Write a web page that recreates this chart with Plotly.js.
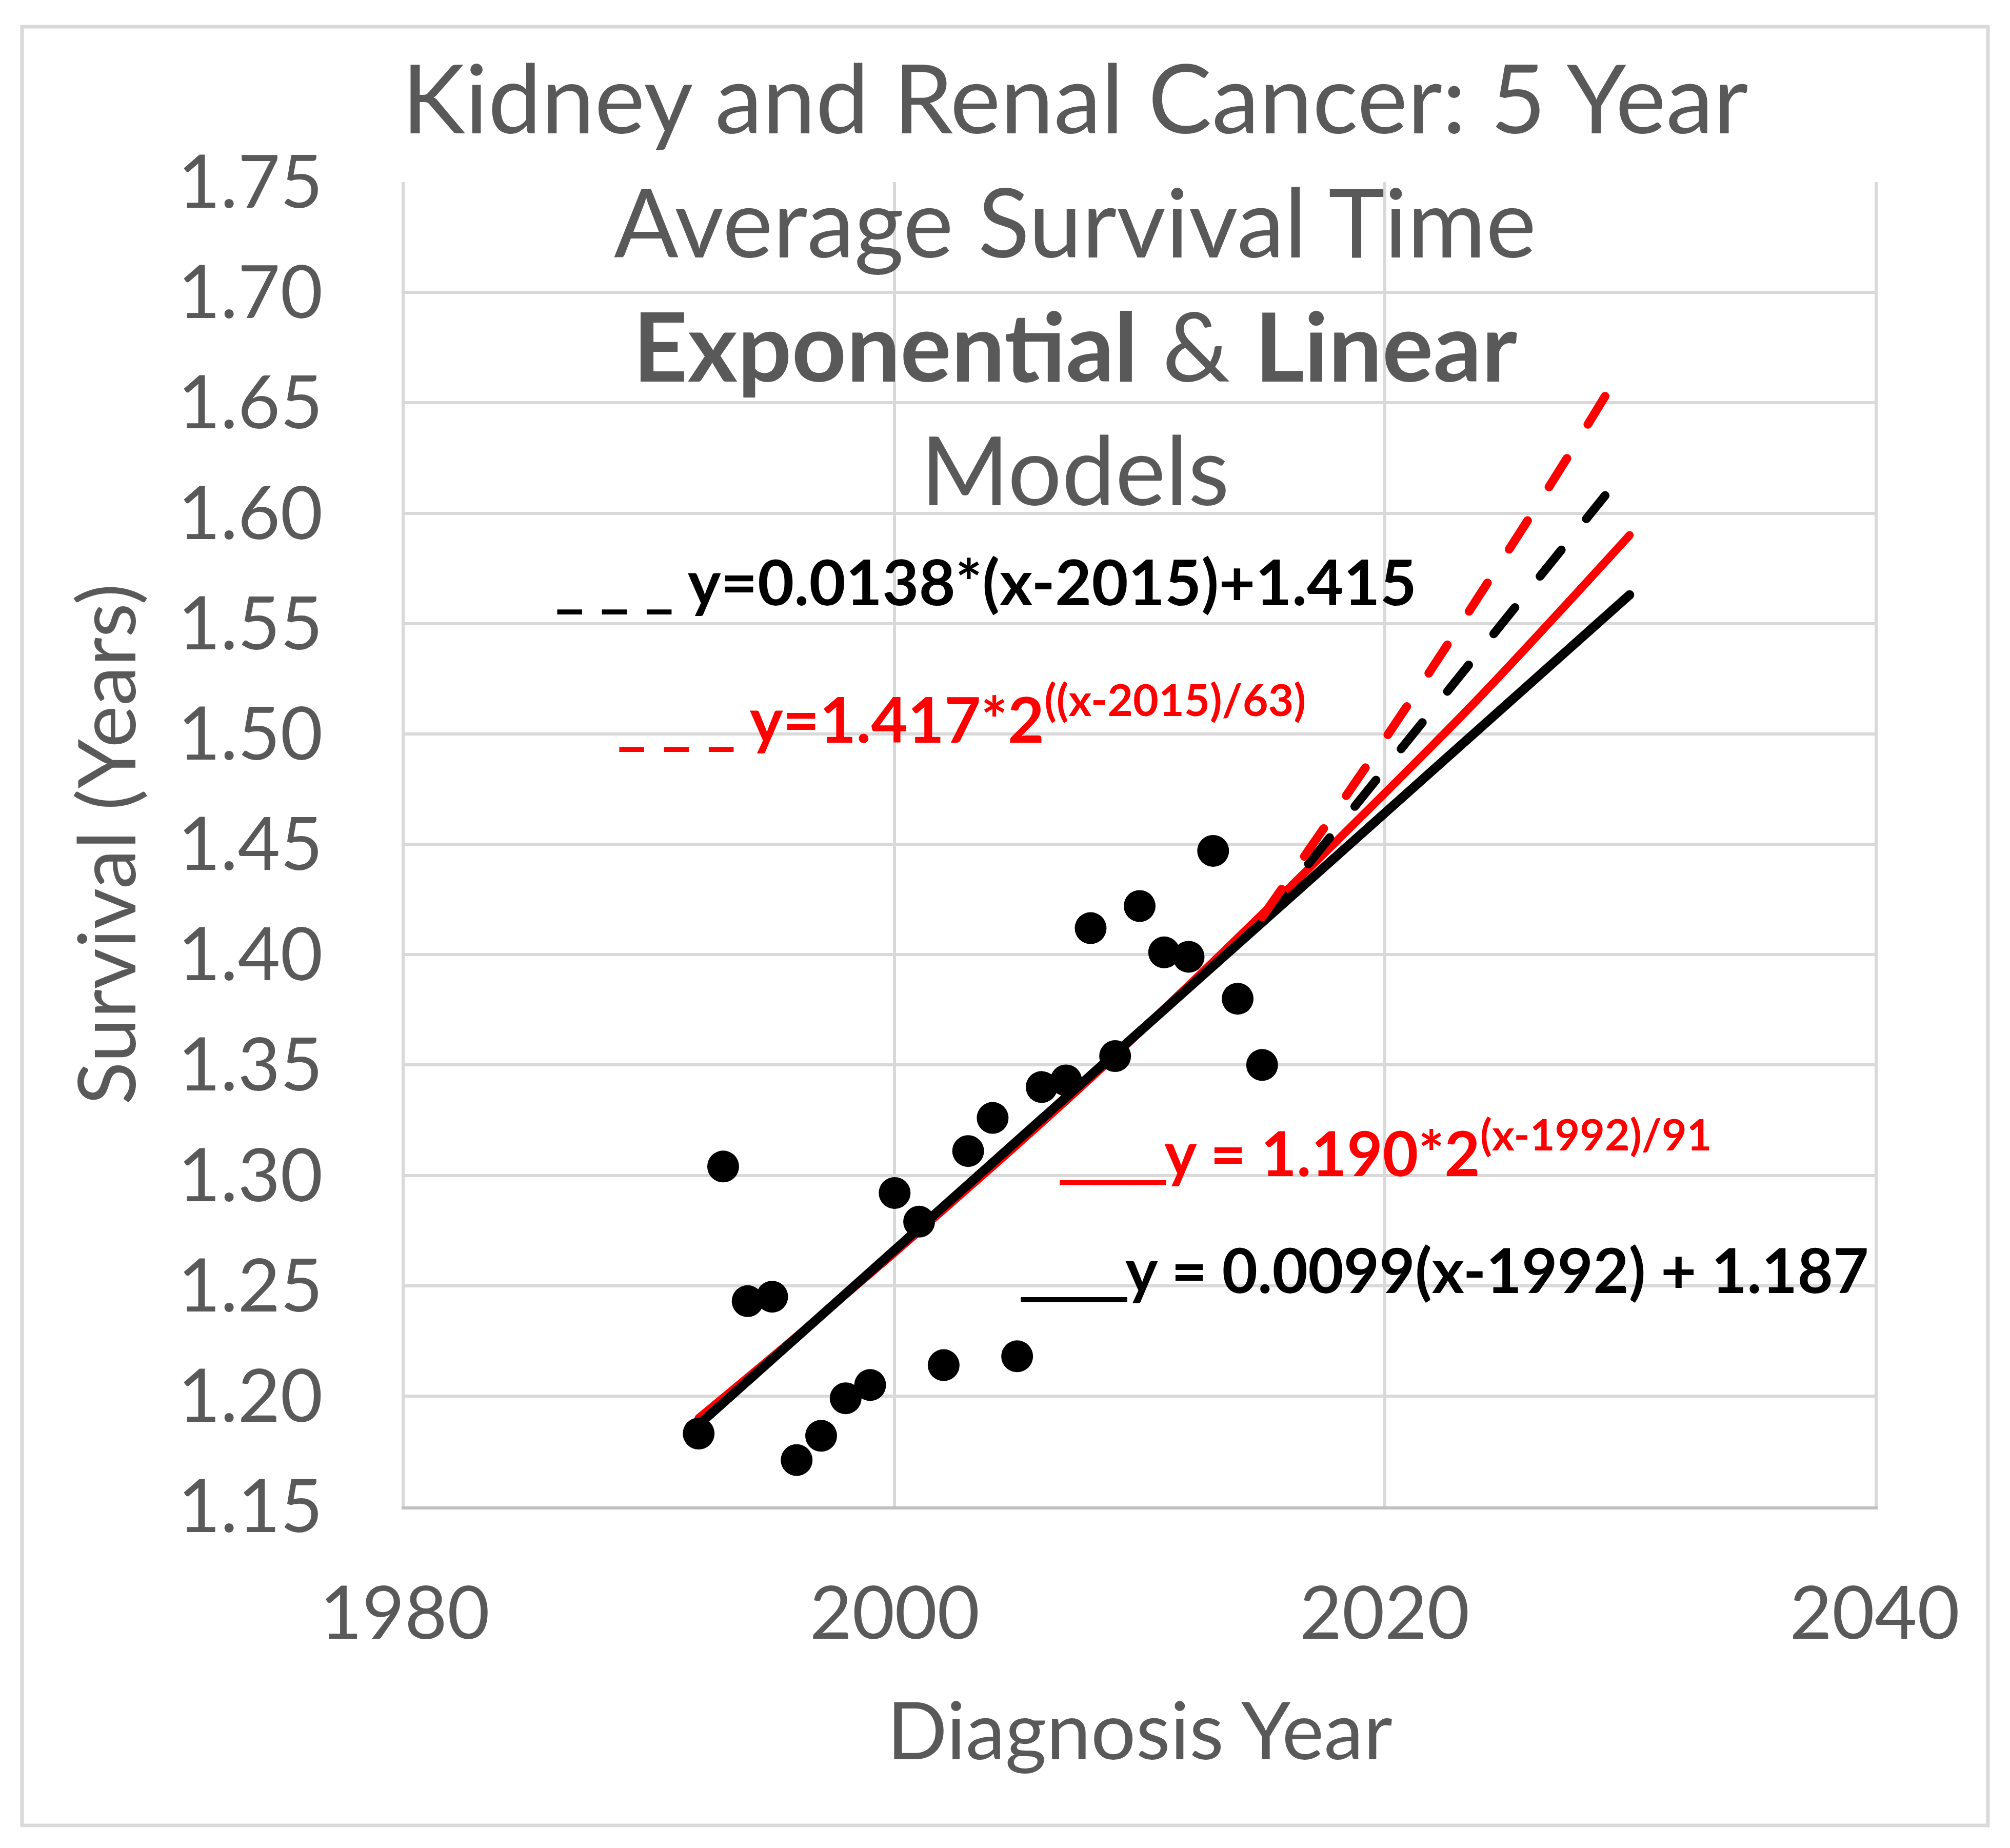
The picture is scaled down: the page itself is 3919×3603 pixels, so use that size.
<!DOCTYPE html>
<html>
<head>
<meta charset="utf-8">
<script src="https://cdn.plot.ly/plotly-3.0.1.min.js"></script>
<style>html,body{margin:0;padding:0;background:#fff;}</style>
</head>
<body>
<div id="chart" style="width:3919px;height:3603px;"></div>
<script>
// Observed data (diagnosis year vs 5-year average survival, years)
const years = [1992,1993,1994,1995,1996,1997,1998,1999,2000,2001,2002,2003,2004,2005,2006,2007,2008,2009,2010,2011,2012,2013,2014,2015];
const survival = [1.183,1.304,1.243,1.245,1.171,1.182,1.199,1.205,1.292,1.279,1.214,1.311,1.326,1.218,1.340,1.343,1.412,1.354,1.422,1.401,1.399,1.447,1.380,1.350];

// Fitted model lines
const linFitYears = [1992, 2030];
const linFitVals = [1.187, 1.563];
const expFitYears = [1992,1996,2000,2004,2008,2012,2016,2020,2024,2030];
const expFitVals = [1.190,1.227,1.265,1.304,1.344,1.386,1.429,1.473,1.518,1.590];
const linProjYears = [2015, 2029];
const linProjVals = [1.415, 1.608];
const expProjYears = [2015,2018,2021,2024,2027,2029];
const expProjVals = [1.417,1.465,1.514,1.565,1.617,1.653];

// Axis ticks
const xTickVals = [1980, 2000, 2020, 2040];
const yTickVals = [1.15,1.20,1.25,1.30,1.35,1.40,1.45,1.50,1.55,1.60,1.65,1.70,1.75];

// Labels
const titleLines = ['Kidney and Renal Cancer: 5 Year', 'Average Survival Time', '<b>Exponential</b> &amp; <b>Linear</b>', 'Models'];
const ul = (c) => '<span style="font-family:\'Liberation Sans\', Arial, sans-serif;stroke:' + c + ';stroke-width:5px">___</span>';
const eqLinProj = '_ _ _ y=0.0138*(x-2015)+1.415';
const eqExpProj = '_ _ _ y=1.417*2<sup>((x-2015)/63)</sup>';
const eqExpFit = ul('#ff0000') + 'y = 1.190*2<sup>(x-1992)/91</sup>';
const eqLinFit = ul('#000000') + 'y = 0.0099(x-1992) + 1.187';

const W = 3919, H = 3603;
const M = {l: 789, r: 264, t: 355, b: 666};
const pw = W - M.l - M.r, ph = H - M.t - M.b;
const FONT = 'Lato, Carlito, Calibri, sans-serif';
const GREY = '#595959';
const px2paperX = p => (p - M.l) / pw;
const px2paperY = p => (H - M.b - p) / ph;

const traces = [
  {x: expFitYears, y: expFitVals, mode: 'lines', line: {color: '#ff0000', width: 16, shape: 'spline'}, hoverinfo: 'skip'},
  {x: linFitYears, y: linFitVals, mode: 'lines', line: {color: '#000000', width: 18}, hoverinfo: 'skip'},
  {x: linProjYears, y: linProjVals, mode: 'lines', line: {color: '#000000', width: 17, dash: '66px,78px'}, hoverinfo: 'skip'},
  {x: expProjYears, y: expProjVals, mode: 'lines', line: {color: '#ff0000', width: 17, dash: '66px,78px', shape: 'spline'}, hoverinfo: 'skip'},
  {x: years, y: survival, mode: 'markers', marker: {color: '#000000', size: 62}, hoverinfo: 'x+y'}
];

const annFont = (c, s) => ({family: FONT, size: s, color: c});
const layout = {
  width: W, height: H,
  margin: M,
  paper_bgcolor: '#ffffff', plot_bgcolor: '#ffffff',
  showlegend: false,
  title: {
    text: titleLines.join('<br>'),
    font: {family: FONT, size: 186, color: GREY},
    xref: 'container', yref: 'container',
    x: 2096 / W, xanchor: 'center',
    y: 1 - 260 / H, yanchor: 'top'
  },
  xaxis: {
    range: [1980, 2040],
    tickvals: xTickVals,
    ticktext: xTickVals.map(String),
    showgrid: true, gridcolor: '#d9d9d9', gridwidth: 6,
    showline: true, linecolor: '#bfbfbf', linewidth: 6,
    zeroline: false, ticks: '',
    ticklabelstandoff: 80,
    tickfont: {family: FONT, size: 143, color: GREY},
    title: {text: 'Diagnosis Year', font: {family: FONT, size: 155, color: GREY}, standoff: 100}
  },
  yaxis: {
    range: [1.15, 1.75],
    tickvals: yTickVals,
    ticktext: yTickVals.map(v => v.toFixed(2)),
    showgrid: true, gridcolor: '#d9d9d9', gridwidth: 6,
    showline: true, linecolor: '#d9d9d9', linewidth: 6, mirror: true,
    zeroline: false, ticks: '',
    ticklabelstandoff: 125,
    tickfont: {family: FONT, size: 143, color: GREY},
    title: {text: 'Survival (Years)', font: {family: FONT, size: 155, color: GREY}, standoff: 32}
  },
  shapes: [
    {type: 'rect', xref: 'paper', yref: 'paper', layer: 'below',
     x0: px2paperX(43), x1: px2paperX(3876), y0: px2paperY(3559), y1: px2paperY(52),
     line: {color: '#d9d9d9', width: 7}, fillcolor: 'rgba(0,0,0,0)'}
  ],
  annotations: [
    {text: '<b>' + eqLinProj + '</b>', x: 1986.09, y: 1.5694, xref: 'x', yref: 'y', xanchor: 'left', yanchor: 'middle', showarrow: false, font: annFont('#000000', 123)},
    {text: '<b>' + eqExpProj + '</b>', x: 1988.62, y: 1.5088, xref: 'x', yref: 'y', xanchor: 'left', yanchor: 'middle', showarrow: false, font: annFont('#ff0000', 123)},
    {text: '<b>' + eqExpFit + '</b>', x: 2006.73, y: 1.3122, xref: 'x', yref: 'y', xanchor: 'left', yanchor: 'middle', showarrow: false, font: annFont('#ff0000', 120)},
    {text: '<b>' + eqLinFit + '</b>', x: 2005.14, y: 1.2573, xref: 'x', yref: 'y', xanchor: 'left', yanchor: 'middle', showarrow: false, font: annFont('#000000', 120)}
  ]
};

Plotly.newPlot('chart', traces, layout, {displayModeBar: false, staticPlot: true}).then(function (gd) {
  gd.querySelectorAll('.scatterlayer .js-line').forEach(function (p) {
    p.style.strokeLinecap = 'round';
    p.style.strokeLinejoin = 'round';
  });
});
</script>
</body>
</html>
